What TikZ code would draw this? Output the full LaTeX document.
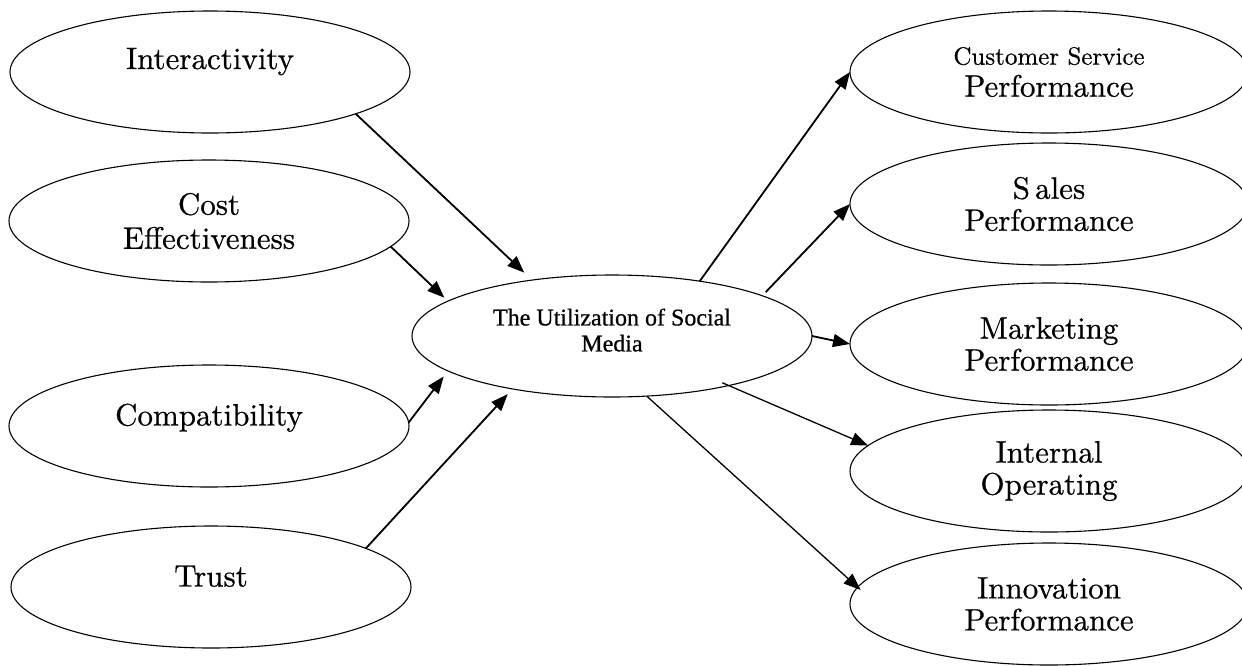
\documentclass[tikz,border=0pt]{standalone}
\usepackage{fontspec}
\newfontfamily\timesf{Liberation Serif}[FakeBold=0.6]
\newfontfamily\cent{lmroman10-regular.otf}[FakeBold=0.6]
\usetikzlibrary{shapes.geometric,arrows.meta}
\begin{document}
\begin{tikzpicture}[x=1pt,y=-1pt,
  ell/.style={draw, ellipse, line width=1.1pt, minimum width=400pt, minimum height=122pt,
    inner sep=0pt, outer sep=0pt, align=center, font=\cent\fontsize{31}{34}\selectfont},
  oneline/.style={text height=21pt},
  rell/.style={ell, minimum width=398pt, font=\cent\fontsize{31}{32}\selectfont},
  arr/.style={line width=1.8pt, -{Triangle[length=17pt,width=13pt]}},
  thinarr/.style={arr, line width=1.3pt}]
\useasboundingbox (0,0) rectangle (1242,665);
% left: antecedents
\node[ell, oneline, text depth=27pt] (int) at (210,72) {Interactivity};
\node[ell] (cost) at (209,221) {Cost\\Effectiveness};
\node[ell, oneline, text depth=22pt] (comp) at (209,426) {Compatibility};
\node[ell, oneline, text depth=22pt] (trust) at (211,587) {Trust};
% centre
\node[ell, text depth=12pt, font=\timesf\fontsize{24}{26}\selectfont] (soc) at (612,336)
  {The Utilization of Social\\Media};
% right: outcomes
\node[rell] (cs) at (1049,72) {{\fontsize{25}{26}\selectfont Customer Service}\\Performance};
\node[rell] (sales) at (1049,204) {S\,ales\\Performance};
\node[rell] (mkt) at (1049,344) {Marketing\\Performance};
\node[rell] (intop) at (1049,471) {Internal\\Operating};
\node[rell] (innov) at (1049,604) {Innovation\\Performance};
% incoming arrows
\draw[arr, shorten >=10.8pt] (int.-16.7) -- (soc.145.9);
\draw[arr, shorten >=5pt] (cost.-8.1) -- (soc.168.3);
\draw[arr, shorten >=7pt] (comp.1.5) -- (soc.-168.2);
\draw[arr, shorten >=7pt] (trust.14.4) -- (soc.-152.2);
% outgoing arrows
\draw[arr] (soc.32.9) -- (cs.west);
\draw[arr, shorten <=5pt] (soc.15.8) -- (sales.west);
\draw[arr] (soc.east) -- (mkt.west);
\draw[thinarr, shorten <=-7pt] (soc.-23.8) -- (intop.172.7);
\draw[thinarr, shorten >=-4pt] (soc.-60.5) -- (innov.175);
\end{tikzpicture}
\end{document}
